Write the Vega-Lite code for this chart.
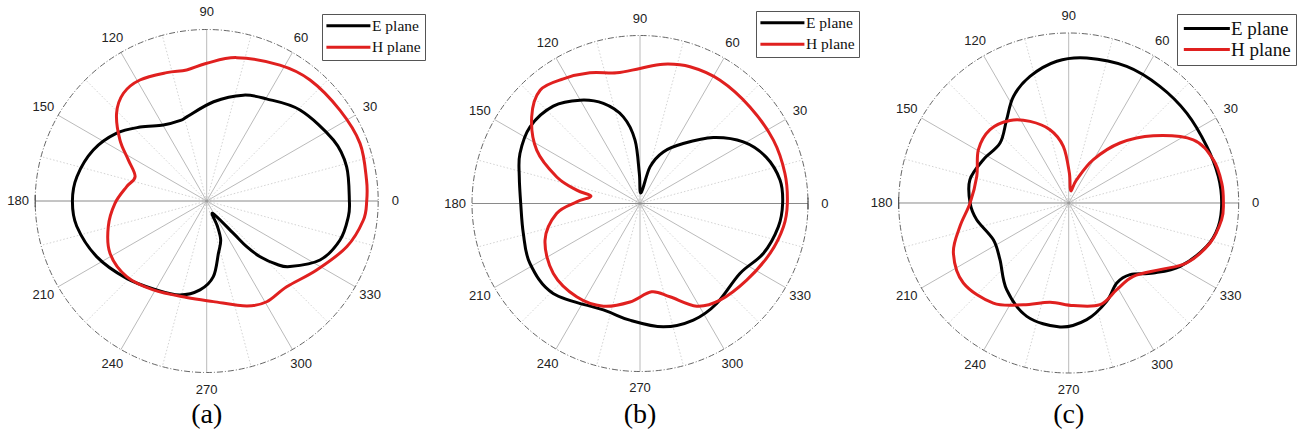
{
"$schema": "https://vega.github.io/schema/vega-lite/v6.json",
"padding": 0,
"spacing": 0,
"bounds": "flush",
"background": "white",
"config": {"view": {"stroke": null}, "concat": {"spacing": 0}},
"datasets": {
"minor": [{"angle":15},{"angle":45},{"angle":75},{"angle":105},{"angle":135},{"angle":165},{"angle":195},{"angle":225},{"angle":255},{"angle":285},{"angle":315},{"angle":345}],
"major": [{"angle":30},{"angle":60},{"angle":90},{"angle":120},{"angle":150},{"angle":210},{"angle":240},{"angle":270},{"angle":300},{"angle":330}],
"axisline": [{"angle":0},{"angle":180}],
"labels": [{"angle":0,"label":"0"},{"angle":30,"label":"30"},{"angle":60,"label":"60"},{"angle":90,"label":"90"},{"angle":120,"label":"120"},{"angle":150,"label":"150"},{"angle":180,"label":"180"},{"angle":210,"label":"210"},{"angle":240,"label":"240"},{"angle":270,"label":"270"},{"angle":300,"label":"300"},{"angle":330,"label":"330"}],
"a": [
{"series":"E plane","angle":0,"r":0.832},{"series":"E plane","angle":13.8,"r":0.84},{"series":"E plane","angle":25.7,"r":0.82},{"series":"E plane","angle":44.3,"r":0.76},{"series":"E plane","angle":59.7,"r":0.69},{"series":"E plane","angle":70.9,"r":0.653},{"series":"E plane","angle":86,"r":0.58},{"series":"E plane","angle":103,"r":0.505},{"series":"E plane","angle":108,"r":0.494},{"series":"E plane","angle":119.7,"r":0.51},{"series":"E plane","angle":132,"r":0.58},{"series":"E plane","angle":143,"r":0.657},{"series":"E plane","angle":155.8,"r":0.725},{"series":"E plane","angle":169.4,"r":0.77},{"series":"E plane","angle":180,"r":0.783},{"series":"E plane","angle":191,"r":0.772},{"series":"E plane","angle":206.8,"r":0.719},{"series":"E plane","angle":224,"r":0.649},{"series":"E plane","angle":240.7,"r":0.595},{"series":"E plane","angle":254,"r":0.57},{"series":"E plane","angle":265.7,"r":0.52},{"series":"E plane","angle":275,"r":0.443},{"series":"E plane","angle":282.6,"r":0.313},{"series":"E plane","angle":289.7,"r":0.242},{"series":"E plane","angle":293,"r":0.16},{"series":"E plane","angle":296,"r":0.08},{"series":"E plane","angle":309.5,"r":0.245},{"series":"E plane","angle":311.2,"r":0.354},{"series":"E plane","angle":313.8,"r":0.45},{"series":"E plane","angle":317.9,"r":0.55},{"series":"E plane","angle":321.8,"r":0.618},{"series":"E plane","angle":332.5,"r":0.745},{"series":"E plane","angle":343.7,"r":0.81},{"series":"E plane","angle":353.7,"r":0.831},
{"series":"H plane","angle":0,"r":0.933},{"series":"H plane","angle":7.5,"r":0.94},{"series":"H plane","angle":20.6,"r":0.955},{"series":"H plane","angle":34.3,"r":0.94},{"series":"H plane","angle":49.5,"r":0.928},{"series":"H plane","angle":61.7,"r":0.9},{"series":"H plane","angle":78.2,"r":0.854},{"series":"H plane","angle":90,"r":0.803},{"series":"H plane","angle":98.7,"r":0.773},{"series":"H plane","angle":107.3,"r":0.784},{"series":"H plane","angle":118.9,"r":0.806},{"series":"H plane","angle":127.7,"r":0.794},{"series":"H plane","angle":135.8,"r":0.733},{"series":"H plane","angle":144.9,"r":0.618},{"series":"H plane","angle":152.4,"r":0.515},{"series":"H plane","angle":161.2,"r":0.441},{"series":"H plane","angle":169.8,"r":0.474},{"series":"H plane","angle":181.5,"r":0.535},{"series":"H plane","angle":194.6,"r":0.593},{"series":"H plane","angle":208.4,"r":0.641},{"series":"H plane","angle":223.4,"r":0.642},{"series":"H plane","angle":239,"r":0.605},{"series":"H plane","angle":258.3,"r":0.575},{"series":"H plane","angle":273.8,"r":0.588},{"series":"H plane","angle":290.9,"r":0.655},{"series":"H plane","angle":300.8,"r":0.684},{"series":"H plane","angle":313,"r":0.684},{"series":"H plane","angle":327.9,"r":0.757},{"series":"H plane","angle":341.9,"r":0.859},{"series":"H plane","angle":353,"r":0.92}
],
"b": [
{"series":"E plane","angle":0,"r":0.849},{"series":"E plane","angle":9.5,"r":0.845},{"series":"E plane","angle":20.2,"r":0.8},{"series":"E plane","angle":30.8,"r":0.716},{"series":"E plane","angle":42,"r":0.587},{"series":"E plane","angle":54.2,"r":0.44},{"series":"E plane","angle":65.7,"r":0.337},{"series":"E plane","angle":74.7,"r":0.226},{"series":"E plane","angle":84.6,"r":0.064},{"series":"E plane","angle":91.3,"r":0.179},{"series":"E plane","angle":94.5,"r":0.378},{"series":"E plane","angle":100.9,"r":0.525},{"series":"E plane","angle":110.1,"r":0.634},{"series":"E plane","angle":120.1,"r":0.711},{"series":"E plane","angle":131.7,"r":0.776},{"series":"E plane","angle":145.1,"r":0.798},{"series":"E plane","angle":157.4,"r":0.774},{"series":"E plane","angle":167.5,"r":0.736},{"series":"E plane","angle":180,"r":0.71},{"series":"E plane","angle":194.4,"r":0.717},{"series":"E plane","angle":208.6,"r":0.746},{"series":"E plane","angle":226,"r":0.744},{"series":"E plane","angle":251,"r":0.67},{"series":"E plane","angle":265,"r":0.697},{"series":"E plane","angle":280.7,"r":0.747},{"series":"E plane","angle":294.6,"r":0.763},{"series":"E plane","angle":307.5,"r":0.75},{"series":"E plane","angle":325,"r":0.726},{"series":"E plane","angle":337.9,"r":0.792},{"series":"E plane","angle":350.4,"r":0.835},
{"series":"H plane","angle":0,"r":0.877},{"series":"H plane","angle":11.7,"r":0.881},{"series":"H plane","angle":25.4,"r":0.879},{"series":"H plane","angle":41.3,"r":0.871},{"series":"H plane","angle":57,"r":0.875},{"series":"H plane","angle":69.9,"r":0.867},{"series":"H plane","angle":80.5,"r":0.841},{"series":"H plane","angle":90,"r":0.804},{"series":"H plane","angle":100.1,"r":0.79},{"series":"H plane","angle":111,"r":0.833},{"series":"H plane","angle":121.6,"r":0.871},{"series":"H plane","angle":131.4,"r":0.899},{"series":"H plane","angle":141.3,"r":0.826},{"series":"H plane","angle":152.7,"r":0.692},{"series":"H plane","angle":162.3,"r":0.52},{"series":"H plane","angle":168.1,"r":0.385},{"series":"H plane","angle":171.5,"r":0.295},{"series":"H plane","angle":178.5,"r":0.377},{"series":"H plane","angle":186.8,"r":0.5},{"series":"H plane","angle":201.1,"r":0.606},{"series":"H plane","angle":218.9,"r":0.663},{"series":"H plane","angle":235.8,"r":0.671},{"series":"H plane","angle":250.3,"r":0.649},{"series":"H plane","angle":264.2,"r":0.589},{"series":"H plane","angle":277.5,"r":0.53},{"series":"H plane","angle":287.8,"r":0.583},{"series":"H plane","angle":298.9,"r":0.698},{"series":"H plane","angle":309.6,"r":0.747},{"series":"H plane","angle":324.3,"r":0.782},{"series":"H plane","angle":339,"r":0.829},{"series":"H plane","angle":350.8,"r":0.865}
],
"c": [
{"series":"E plane","angle":0,"r":0.9},{"series":"E plane","angle":10.1,"r":0.894},{"series":"E plane","angle":22.3,"r":0.878},{"series":"E plane","angle":37.3,"r":0.873},{"series":"E plane","angle":52,"r":0.871},{"series":"E plane","angle":67,"r":0.873},{"series":"E plane","angle":82.9,"r":0.86},{"series":"E plane","angle":94.8,"r":0.837},{"series":"E plane","angle":107,"r":0.779},{"series":"E plane","angle":117.4,"r":0.706},{"series":"E plane","angle":126.7,"r":0.611},{"series":"E plane","angle":138.9,"r":0.536},{"series":"E plane","angle":153.1,"r":0.563},{"series":"E plane","angle":166.7,"r":0.597},{"series":"E plane","angle":180,"r":0.58},{"series":"E plane","angle":190.3,"r":0.55},{"series":"E plane","angle":206,"r":0.493},{"series":"E plane","angle":219.5,"r":0.524},{"series":"E plane","angle":234.4,"r":0.627},{"series":"E plane","angle":249.7,"r":0.711},{"series":"E plane","angle":266,"r":0.731},{"series":"E plane","angle":278.8,"r":0.694},{"series":"E plane","angle":291.1,"r":0.62},{"series":"E plane","angle":301,"r":0.549},{"series":"E plane","angle":310.6,"r":0.555},{"series":"E plane","angle":320.4,"r":0.646},{"series":"E plane","angle":330.4,"r":0.754},{"series":"E plane","angle":342.6,"r":0.851},{"series":"E plane","angle":351.1,"r":0.891},
{"series":"H plane","angle":0,"r":0.91},{"series":"H plane","angle":7.4,"r":0.908},{"series":"H plane","angle":16.7,"r":0.888},{"series":"H plane","angle":26.9,"r":0.822},{"series":"H plane","angle":38.5,"r":0.636},{"series":"H plane","angle":49.5,"r":0.464},{"series":"H plane","angle":60.4,"r":0.293},{"series":"H plane","angle":71.1,"r":0.145},{"series":"H plane","angle":80.8,"r":0.074},{"series":"H plane","angle":88.7,"r":0.176},{"series":"H plane","angle":95.4,"r":0.335},{"series":"H plane","angle":104.3,"r":0.445},{"series":"H plane","angle":115.3,"r":0.531},{"series":"H plane","angle":125.4,"r":0.596},{"series":"H plane","angle":137,"r":0.633},{"series":"H plane","angle":149.4,"r":0.617},{"series":"H plane","angle":163.8,"r":0.563},{"series":"H plane","angle":180,"r":0.58},{"series":"H plane","angle":192.1,"r":0.654},{"series":"H plane","angle":203.4,"r":0.739},{"series":"H plane","angle":217.2,"r":0.778},{"series":"H plane","angle":233,"r":0.737},{"series":"H plane","angle":246,"r":0.655},{"series":"H plane","angle":259.4,"r":0.594},{"series":"H plane","angle":272.6,"r":0.604},{"series":"H plane","angle":287.1,"r":0.626},{"series":"H plane","angle":299,"r":0.583},{"series":"H plane","angle":311.4,"r":0.575},{"series":"H plane","angle":323.9,"r":0.665},{"series":"H plane","angle":333,"r":0.778},{"series":"H plane","angle":344.2,"r":0.864},{"series":"H plane","angle":353.8,"r":0.905}
]
},
"resolve": {"scale": {"color": "independent"}, "legend": {"color": "independent"}},
"hconcat": [
{
"width": 432, "height": 438,
"layer": [
{"data": {"name": "minor"}, "transform": [{"calculate": "cos(datum.angle*PI/180)", "as": "ex"}, {"calculate": "sin(datum.angle*PI/180)", "as": "ey"}, {"calculate": "0", "as": "o"}],
 "mark": {"type": "rule", "color": "#c8c8c8", "strokeWidth": 0.8, "strokeDash": [1.5, 2]},
 "encoding": {"x": {"field": "o", "type": "quantitative", "scale": {"domain": [-1.2052, 1.3137], "nice": false, "zero": false}, "axis": null}, "y": {"field": "o", "type": "quantitative", "scale": {"domain": [-1.3819, 1.172], "nice": false, "zero": false}, "axis": null}, "x2": {"field": "ex"}, "y2": {"field": "ey"}}},
{"data": {"name": "major"}, "transform": [{"calculate": "cos(datum.angle*PI/180)", "as": "ex"}, {"calculate": "sin(datum.angle*PI/180)", "as": "ey"}, {"calculate": "0", "as": "o"}],
 "mark": {"type": "rule", "color": "#a8a8a8", "strokeWidth": 0.8},
 "encoding": {"x": {"field": "o", "type": "quantitative", "axis": null}, "y": {"field": "o", "type": "quantitative", "axis": null}, "x2": {"field": "ex"}, "y2": {"field": "ey"}}},
{"data": {"name": "axisline"}, "transform": [{"calculate": "cos(datum.angle*PI/180)", "as": "ex"}, {"calculate": "sin(datum.angle*PI/180)", "as": "ey"}, {"calculate": "0", "as": "o"}],
 "mark": {"type": "rule", "color": "#8a8a8a", "strokeWidth": 1},
 "encoding": {"x": {"field": "o", "type": "quantitative", "axis": null}, "y": {"field": "o", "type": "quantitative", "axis": null}, "x2": {"field": "ex"}, "y2": {"field": "ey"}}},
{"data": {"values": [{"angle": 180}]}, "transform": [{"calculate": "cos(datum.angle*PI/180)", "as": "ex"}, {"calculate": "-0.035", "as": "t1"}, {"calculate": "0.035", "as": "t2"}],
 "mark": {"type": "rule", "color": "#333333", "strokeWidth": 1},
 "encoding": {"x": {"field": "ex", "type": "quantitative", "axis": null}, "y": {"field": "t1", "type": "quantitative", "axis": null}, "y2": {"field": "t2"}}},
{"data": {"values": [{"angle": 0}]}, "transform": [{"calculate": "0", "as": "o"}],
 "mark": {"type": "point", "shape": "circle", "filled": false, "size": 117649, "stroke": "#555555", "strokeWidth": 0.9, "strokeDash": [6, 2, 1, 2], "opacity": 1},
 "encoding": {"x": {"field": "o", "type": "quantitative", "axis": null}, "y": {"field": "o", "type": "quantitative", "axis": null}}},
{"data": {"name": "labels"}, "transform": [{"calculate": "1.1*cos(datum.angle*PI/180)", "as": "lx"}, {"calculate": "1.1*sin(datum.angle*PI/180)", "as": "ly"}],
 "mark": {"type": "text", "font": "Liberation Sans", "fontSize": 13, "color": "#222222", "align": "center", "baseline": "middle"},
 "encoding": {"x": {"field": "lx", "type": "quantitative", "axis": null}, "y": {"field": "ly", "type": "quantitative", "axis": null}, "text": {"field": "label", "type": "nominal"}}},
{"data": {"name": "a"}, "transform": [{"calculate": "datum.r*cos(datum.angle*PI/180)", "as": "x"}, {"calculate": "datum.r*sin(datum.angle*PI/180)", "as": "y"}],
 "mark": {"type": "line", "interpolate": "cardinal-closed", "strokeWidth": 3},
 "encoding": {"x": {"field": "x", "type": "quantitative", "axis": null}, "y": {"field": "y", "type": "quantitative", "axis": null}, "order": {"field": "angle", "type": "quantitative"},
  "color": {"field": "series", "type": "nominal", "scale": {"domain": ["E plane", "H plane"], "range": ["#000000", "#e0201f"]},
   "legend": {"orient": "none", "legendX": 322, "legendY": 14, "title": null, "strokeColor": "#555555", "fillColor": "white", "padding": 4, "symbolType": "M-2,0H10", "symbolSize": 53.8, "symbolOffset": 0, "symbolStrokeWidth": 3, "labelFont": "Liberation Serif", "labelFontSize": 15.5, "labelColor": "#111111", "rowPadding": 4.5, "labelOffset": 30.5}}}},
{"data": {"values": [{"t": "(a)"}]}, "transform": [{"calculate": "0", "as": "px"}, {"calculate": "-1.25", "as": "py"}],
 "mark": {"type": "text", "font": "Liberation Serif", "fontSize": 28, "color": "#000000", "align": "center", "baseline": "middle"},
 "encoding": {"x": {"field": "px", "type": "quantitative", "axis": null}, "y": {"field": "py", "type": "quantitative", "axis": null}, "text": {"field": "t", "type": "nominal"}}}
]
},
{
"width": 428, "height": 438,
"layer": [
{"data": {"name": "minor"}, "transform": [{"calculate": "cos(datum.angle*PI/180)", "as": "ex"}, {"calculate": "sin(datum.angle*PI/180)", "as": "ey"}, {"calculate": "0", "as": "o"}],
 "mark": {"type": "rule", "color": "#c8c8c8", "strokeWidth": 0.8, "strokeDash": [1.5, 2]},
 "encoding": {"x": {"field": "o", "type": "quantitative", "scale": {"domain": [-1.2381, 1.3095], "nice": false, "zero": false}, "axis": null}, "y": {"field": "o", "type": "quantitative", "scale": {"domain": [-1.3958, 1.2113], "nice": false, "zero": false}, "axis": null}, "x2": {"field": "ex"}, "y2": {"field": "ey"}}},
{"data": {"name": "major"}, "transform": [{"calculate": "cos(datum.angle*PI/180)", "as": "ex"}, {"calculate": "sin(datum.angle*PI/180)", "as": "ey"}, {"calculate": "0", "as": "o"}],
 "mark": {"type": "rule", "color": "#a8a8a8", "strokeWidth": 0.8},
 "encoding": {"x": {"field": "o", "type": "quantitative", "axis": null}, "y": {"field": "o", "type": "quantitative", "axis": null}, "x2": {"field": "ex"}, "y2": {"field": "ey"}}},
{"data": {"name": "axisline"}, "transform": [{"calculate": "cos(datum.angle*PI/180)", "as": "ex"}, {"calculate": "sin(datum.angle*PI/180)", "as": "ey"}, {"calculate": "0", "as": "o"}],
 "mark": {"type": "rule", "color": "#8a8a8a", "strokeWidth": 1},
 "encoding": {"x": {"field": "o", "type": "quantitative", "axis": null}, "y": {"field": "o", "type": "quantitative", "axis": null}, "x2": {"field": "ex"}, "y2": {"field": "ey"}}},
{"data": {"values": [{"angle": 0}]}, "transform": [{"calculate": "cos(datum.angle*PI/180)", "as": "ex"}, {"calculate": "-0.035", "as": "t1"}, {"calculate": "0.035", "as": "t2"}],
 "mark": {"type": "rule", "color": "#333333", "strokeWidth": 1},
 "encoding": {"x": {"field": "ex", "type": "quantitative", "axis": null}, "y": {"field": "t1", "type": "quantitative", "axis": null}, "y2": {"field": "t2"}}},
{"data": {"values": [{"angle": 0}]}, "transform": [{"calculate": "0", "as": "o"}],
 "mark": {"type": "point", "shape": "circle", "filled": false, "size": 112896, "stroke": "#555555", "strokeWidth": 0.9, "strokeDash": [6, 2, 1, 2], "opacity": 1},
 "encoding": {"x": {"field": "o", "type": "quantitative", "axis": null}, "y": {"field": "o", "type": "quantitative", "axis": null}}},
{"data": {"name": "labels"}, "transform": [{"calculate": "1.1*cos(datum.angle*PI/180)", "as": "lx"}, {"calculate": "1.1*sin(datum.angle*PI/180)", "as": "ly"}],
 "mark": {"type": "text", "font": "Liberation Sans", "fontSize": 13, "color": "#222222", "align": "center", "baseline": "middle"},
 "encoding": {"x": {"field": "lx", "type": "quantitative", "axis": null}, "y": {"field": "ly", "type": "quantitative", "axis": null}, "text": {"field": "label", "type": "nominal"}}},
{"data": {"name": "b"}, "transform": [{"calculate": "datum.r*cos(datum.angle*PI/180)", "as": "x"}, {"calculate": "datum.r*sin(datum.angle*PI/180)", "as": "y"}],
 "mark": {"type": "line", "interpolate": "cardinal-closed", "strokeWidth": 3},
 "encoding": {"x": {"field": "x", "type": "quantitative", "axis": null}, "y": {"field": "y", "type": "quantitative", "axis": null}, "order": {"field": "angle", "type": "quantitative"},
  "color": {"field": "series", "type": "nominal", "scale": {"domain": ["E plane", "H plane"], "range": ["#000000", "#e0201f"]},
   "legend": {"orient": "none", "legendX": 324, "legendY": 11, "title": null, "strokeColor": "#555555", "fillColor": "white", "padding": 4, "symbolType": "M-2,0H10", "symbolSize": 53.8, "symbolOffset": 0, "symbolStrokeWidth": 3, "labelFont": "Liberation Serif", "labelFontSize": 15.5, "labelColor": "#111111", "rowPadding": 4.5, "labelOffset": 30.5}}}},
{"data": {"values": [{"t": "(b)"}]}, "transform": [{"calculate": "0", "as": "px"}, {"calculate": "-1.26", "as": "py"}],
 "mark": {"type": "text", "font": "Liberation Serif", "fontSize": 28, "color": "#000000", "align": "center", "baseline": "middle"},
 "encoding": {"x": {"field": "px", "type": "quantitative", "axis": null}, "y": {"field": "py", "type": "quantitative", "axis": null}, "text": {"field": "t", "type": "nominal"}}}
]
},
{
"width": 447, "height": 438,
"layer": [
{"data": {"name": "minor"}, "transform": [{"calculate": "cos(datum.angle*PI/180)", "as": "ex"}, {"calculate": "sin(datum.angle*PI/180)", "as": "ey"}, {"calculate": "0", "as": "o"}],
 "mark": {"type": "rule", "color": "#c8c8c8", "strokeWidth": 0.8, "strokeDash": [1.5, 2]},
 "encoding": {"x": {"field": "o", "type": "quantitative", "scale": {"domain": [-1.2276, 1.4018], "nice": false, "zero": false}, "axis": null}, "y": {"field": "o", "type": "quantitative", "scale": {"domain": [-1.3824, 1.1941], "nice": false, "zero": false}, "axis": null}, "x2": {"field": "ex"}, "y2": {"field": "ey"}}},
{"data": {"name": "major"}, "transform": [{"calculate": "cos(datum.angle*PI/180)", "as": "ex"}, {"calculate": "sin(datum.angle*PI/180)", "as": "ey"}, {"calculate": "0", "as": "o"}],
 "mark": {"type": "rule", "color": "#a8a8a8", "strokeWidth": 0.8},
 "encoding": {"x": {"field": "o", "type": "quantitative", "axis": null}, "y": {"field": "o", "type": "quantitative", "axis": null}, "x2": {"field": "ex"}, "y2": {"field": "ey"}}},
{"data": {"name": "axisline"}, "transform": [{"calculate": "cos(datum.angle*PI/180)", "as": "ex"}, {"calculate": "sin(datum.angle*PI/180)", "as": "ey"}, {"calculate": "0", "as": "o"}],
 "mark": {"type": "rule", "color": "#8a8a8a", "strokeWidth": 1},
 "encoding": {"x": {"field": "o", "type": "quantitative", "axis": null}, "y": {"field": "o", "type": "quantitative", "axis": null}, "x2": {"field": "ex"}, "y2": {"field": "ey"}}},
{"data": {"values": [{"angle": 180}]}, "transform": [{"calculate": "cos(datum.angle*PI/180)", "as": "ex"}, {"calculate": "-0.035", "as": "t1"}, {"calculate": "0.035", "as": "t2"}],
 "mark": {"type": "rule", "color": "#333333", "strokeWidth": 1},
 "encoding": {"x": {"field": "ex", "type": "quantitative", "axis": null}, "y": {"field": "t1", "type": "quantitative", "axis": null}, "y2": {"field": "t2"}}},
{"data": {"values": [{"angle": 0}]}, "transform": [{"calculate": "0", "as": "o"}],
 "mark": {"type": "point", "shape": "circle", "filled": false, "size": 115600, "stroke": "#555555", "strokeWidth": 0.9, "strokeDash": [6, 2, 1, 2], "opacity": 1},
 "encoding": {"x": {"field": "o", "type": "quantitative", "axis": null}, "y": {"field": "o", "type": "quantitative", "axis": null}}},
{"data": {"name": "labels"}, "transform": [{"calculate": "1.1*cos(datum.angle*PI/180)", "as": "lx"}, {"calculate": "1.1*sin(datum.angle*PI/180)", "as": "ly"}],
 "mark": {"type": "text", "font": "Liberation Sans", "fontSize": 13, "color": "#222222", "align": "center", "baseline": "middle"},
 "encoding": {"x": {"field": "lx", "type": "quantitative", "axis": null}, "y": {"field": "ly", "type": "quantitative", "axis": null}, "text": {"field": "label", "type": "nominal"}}},
{"data": {"name": "c"}, "transform": [{"calculate": "datum.r*cos(datum.angle*PI/180)", "as": "x"}, {"calculate": "datum.r*sin(datum.angle*PI/180)", "as": "y"}],
 "mark": {"type": "line", "interpolate": "cardinal-closed", "strokeWidth": 3},
 "encoding": {"x": {"field": "x", "type": "quantitative", "axis": null}, "y": {"field": "y", "type": "quantitative", "axis": null}, "order": {"field": "angle", "type": "quantitative"},
  "color": {"field": "series", "type": "nominal", "scale": {"domain": ["E plane", "H plane"], "range": ["#000000", "#e0201f"]},
   "legend": {"orient": "none", "legendX": 317, "legendY": 14, "title": null, "strokeColor": "#555555", "fillColor": "white", "padding": 5, "symbolType": "M-2,0H10", "symbolSize": 58.8, "symbolOffset": 0, "symbolStrokeWidth": 3, "labelFont": "Liberation Serif", "labelFontSize": 19, "labelColor": "#111111", "rowPadding": 1, "labelOffset": 30}}}},
{"data": {"values": [{"t": "(c)"}]}, "transform": [{"calculate": "0", "as": "px"}, {"calculate": "-1.25", "as": "py"}],
 "mark": {"type": "text", "font": "Liberation Serif", "fontSize": 28, "color": "#000000", "align": "center", "baseline": "middle"},
 "encoding": {"x": {"field": "px", "type": "quantitative", "axis": null}, "y": {"field": "py", "type": "quantitative", "axis": null}, "text": {"field": "t", "type": "nominal"}}}
]
}
]
}
